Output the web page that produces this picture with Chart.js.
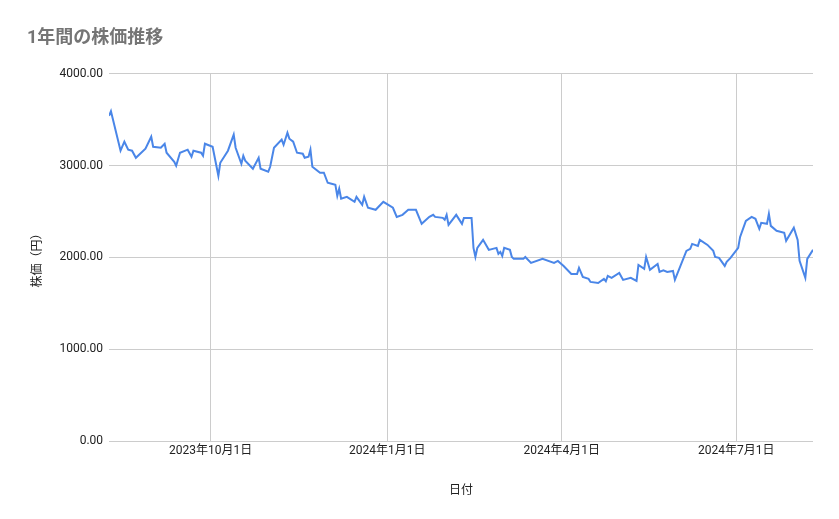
<!DOCTYPE html>
<html>
<head>
<meta charset="utf-8">
<script src="https://cdn.jsdelivr.net/npm/chart.js@4"></script>
<style>
  body { margin: 0; background: #fff; }
  #wrap { width: 839px; height: 519px; }
</style>
</head>
<body>
<div id="wrap"><canvas id="graph"></canvas></div>
<script>
// days since 2023-08-09
const days = [0, 1, 6, 8, 10, 12, 14, 19, 22, 23, 27, 29, 30, 34, 35, 37, 41, 43, 44, 48, 49, 50, 54, 57, 58, 62, 65, 66, 69, 70, 71, 75, 78, 79, 83, 84, 86, 90, 91, 93, 94, 96, 98, 101, 102, 104, 105, 106, 110, 112, 114,
  116, 118, 119, 120, 121, 124, 128, 129, 132, 133, 135, 139, 143, 148, 150, 153, 156, 160, 163, 167, 169, 170, 174, 175, 176, 177, 181, 184, 185, 189, 190, 191, 192, 195, 198, 202, 203, 204, 205, 206, 209, 210, 211, 216, 217, 220, 226, 232, 234, 237, 241, 244,
  245, 247, 250, 251, 255, 258, 259, 260, 262, 266, 268, 272, 275, 276, 279, 280, 282, 286, 287, 289, 291, 294, 295, 301, 303, 304, 307, 308, 312, 315, 316, 318, 321, 322, 324, 328, 329, 332, 335, 337, 339, 340, 343, 344, 345, 348, 352, 353, 357, 359, 360, 363, 364, 367];
const prices = [3540, 3590, 3161, 3259, 3172, 3161, 3084, 3183, 3313, 3204, 3193, 3237, 3139, 3041, 2997, 3139, 3172, 3095, 3161, 3139, 3106, 3237, 3204, 2888, 3030, 3161, 3335, 3193, 3019, 3106, 3052, 2965, 3084, 2965, 2932, 2986, 3193, 3281, 3226, 3357, 3292, 3259, 3139, 3128, 3084, 3095, 3172, 2986, 2921, 2921, 2812,
  2801, 2790, 2670, 2747, 2638, 2659, 2605, 2659, 2572, 2659, 2540, 2518, 2605, 2540, 2441, 2463, 2518, 2518, 2365, 2441, 2463, 2441, 2430, 2409, 2463, 2354, 2463, 2365, 2430, 2430, 2104, 2005, 2104, 2191, 2082, 2104, 2038, 2060, 2016, 2104, 2082, 2005, 1984, 1984, 2005, 1940, 1984, 1940, 1962, 1907, 1820, 1820,
  1886, 1787, 1766, 1733, 1722, 1766, 1740, 1798, 1777, 1831, 1755, 1777, 1744, 1918, 1875, 2005, 1864, 1929, 1842, 1860, 1842, 1853, 1755, 2071, 2093, 2147, 2125, 2191, 2136, 2071, 2005, 1995, 1907, 1951, 1995, 2104, 2223, 2398, 2441, 2420, 2311, 2376, 2365, 2474, 2343, 2289, 2267, 2180, 2322, 2191, 1962, 1777, 1984, 2082, 2090];
const tickDays = [53, 145, 236, 327];
const tickLabels = ['2023年10月1日', '2024年1月1日', '2024年4月1日', '2024年7月1日'];

const font = 'Roboto, "Noto Sans CJK JP", sans-serif';
new Chart(document.getElementById('graph'), {
  type: 'line',
  data: {
    datasets: [{
      data: days.map((d, i) => ({ x: d, y: prices[i] })),
      borderColor: '#4a86e8',
      borderWidth: 2,
      pointRadius: 0,
      tension: 0
    }]
  },
  options: {
    responsive: true,
    maintainAspectRatio: false,
    animation: false,
    layout: { padding: { left: 27, right: 26, top: 10, bottom: 17 } },
    plugins: {
      legend: { display: false },
      tooltip: { enabled: false },
      title: {
        display: true, text: '1年間の株価推移', align: 'start',
        color: '#757575', font: { family: font, size: 18, weight: 'bold' },
        padding: { top: 18, bottom: 24 }
      }
    },
    scales: {
      x: {
        type: 'linear', min: 0, max: 367,
        afterBuildTicks: ax => { ax.ticks = tickDays.map(v => ({ value: v })); },
        ticks: {
          autoSkip: false, maxRotation: 0, color: '#222', font: { family: font, size: 12 },
          callback: v => tickLabels[tickDays.indexOf(v)]
        },
        grid: { color: '#cccccc', drawTicks: false },
        border: { display: false },
        title: { display: true, text: '日付', color: '#222', font: { family: font, size: 12 }, padding: { top: 22 } }
      },
      y: {
        min: 0, max: 4000,
        ticks: { stepSize: 1000, color: '#222', font: { family: font, size: 12 }, padding: 6, callback: v => v.toFixed(2) },
        grid: { color: '#cccccc', drawTicks: false },
        border: { display: false },
        title: { display: true, text: '株価（円）', color: '#222', font: { family: font, size: 12 }, padding: { bottom: 8 } }
      }
    }
  }
});
</script>
</body>
</html>
